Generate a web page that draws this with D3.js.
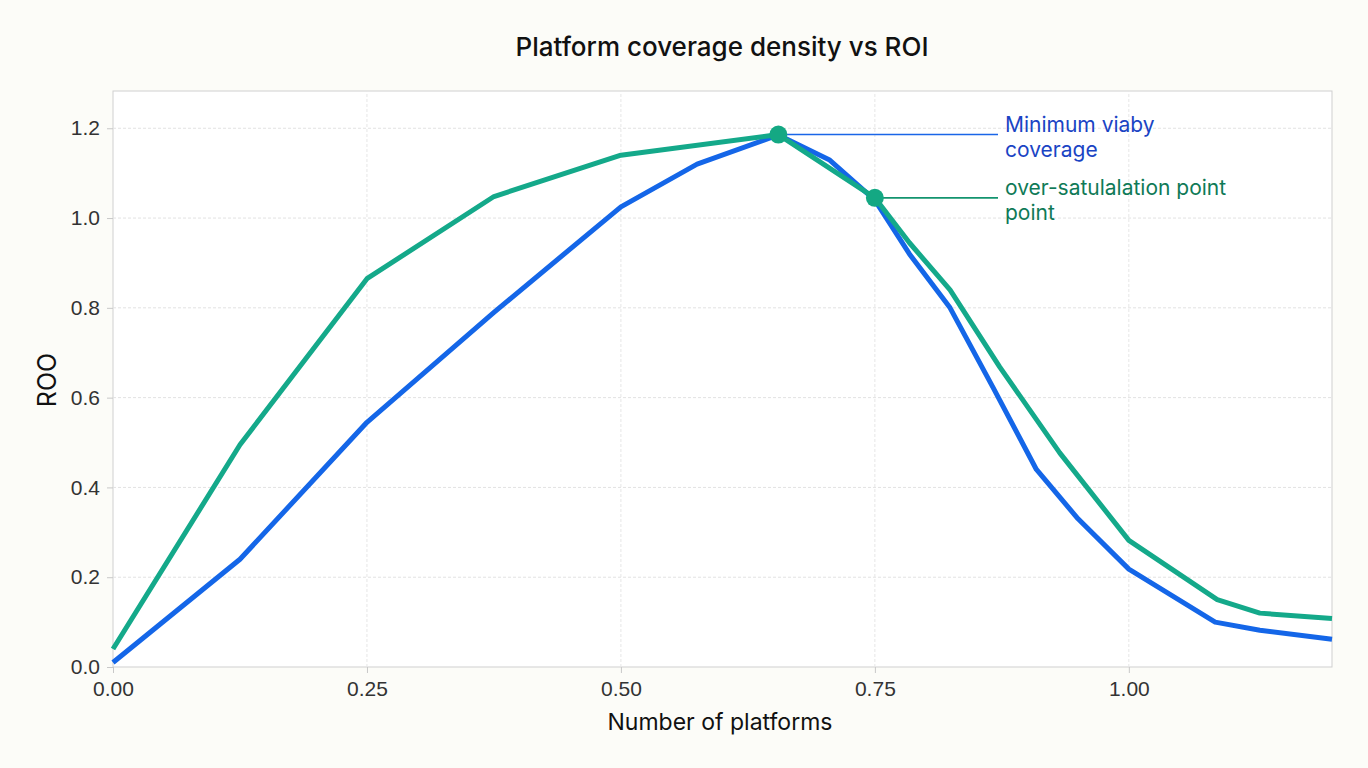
<!DOCTYPE html>
<html>
<head>
<meta charset="utf-8">
<script src="https://cdn.jsdelivr.net/npm/d3@7"></script>
<style>
  html, body { margin: 0; padding: 0; background: #fcfcf8; }
  body { width: 1368px; height: 768px; overflow: hidden; font-family: Inter, "Noto Sans", sans-serif; }
</style>
</head>
<body>
<div id="chart"></div>
<script>
// blue series
const blueX = [0, 0.125, 0.25, 0.375, 0.5, 0.575, 0.655, 0.705, 0.75, 0.784, 0.824, 0.866, 0.909, 0.95, 1.0, 1.085, 1.129, 1.2];
const blueY = [0.01, 0.24, 0.545, 0.79, 1.025, 1.12, 1.185, 1.13, 1.04, 0.92, 0.80, 0.624, 0.44, 0.33, 0.218, 0.10, 0.082, 0.062];
// green series
const greenX = [0, 0.125, 0.25, 0.375, 0.5, 0.655, 0.75, 0.784, 0.824, 0.873, 0.932, 1.0, 1.087, 1.129, 1.2];
const greenY = [0.04, 0.495, 0.865, 1.048, 1.14, 1.186, 1.045, 0.945, 0.84, 0.668, 0.477, 0.282, 0.15, 0.12, 0.108];

const xTicks = [0, 0.25, 0.5, 0.75, 1.0];
const yTicks = [0, 0.2, 0.4, 0.6, 0.8, 1.0, 1.2];

// annotated points
const notes = [
  {x: 0.655, y: 1.186, lines: ["Minimum viaby", "coverage"], color: "#1a44c4", lineColor: "#1a66e8"},
  {x: 0.75, y: 1.045, lines: ["over-satulalation point", "point"], color: "#0f7a57", lineColor: "#13946f"}
];

const W = 1368, H = 768;
const margin = {top: 91, right: 36, bottom: 101, left: 113};

const svg = d3.select("#chart").append("svg")
  .attr("width", W).attr("height", H);

const x = d3.scaleLinear().domain([0, 1.2]).range([margin.left, W - margin.right]);
const y = d3.scaleLinear().domain([0, 1.283]).range([H - margin.bottom, margin.top]);

svg.append("rect")
  .attr("x", x(0)).attr("y", y(1.283))
  .attr("width", x(1.2) - x(0)).attr("height", y(0) - y(1.283))
  .attr("fill", "#fff").attr("stroke", "#cfcfcf").attr("stroke-width", 1);

// grid
svg.append("g").selectAll("line").data(yTicks.slice(1)).join("line")
  .attr("x1", x(0)).attr("x2", x(1.2))
  .attr("y1", d => y(d)).attr("y2", d => y(d))
  .attr("stroke", "#e2e2e2").attr("stroke-dasharray", "3,2");
svg.append("g").selectAll("line").data(xTicks.slice(1)).join("line")
  .attr("y1", y(0)).attr("y2", y(1.283))
  .attr("x1", d => x(d)).attr("x2", d => x(d))
  .attr("stroke", "#e6e6e6").attr("stroke-dasharray", "3,2");

// axes
const xAxis = svg.append("g").attr("transform", `translate(0,${y(0)})`)
  .call(d3.axisBottom(x).tickValues(xTicks).tickFormat(d3.format(".2f")).tickSize(6).tickPadding(8));
const yAxis = svg.append("g").attr("transform", `translate(${x(0)},0)`)
  .call(d3.axisLeft(y).tickValues(yTicks).tickFormat(d3.format(".1f")).tickSize(6).tickPadding(7));
[xAxis, yAxis].forEach(g => {
  g.select(".domain").remove();
  g.selectAll(".tick line").attr("stroke", "#c8c8c8");
  g.selectAll(".tick text").attr("fill", "#333").style("font-size", "21px")
    .style("font-family", "'Liberation Sans', Arial, sans-serif");
});

const line = d3.line().x(d => x(d[0])).y(d => y(d[1]));

svg.append("path").datum(blueX.map((v, i) => [v, blueY[i]]))
  .attr("d", line).attr("fill", "none").attr("stroke", "#1466e8")
  .attr("stroke-width", 5).attr("stroke-linejoin", "round");
svg.append("path").datum(greenX.map((v, i) => [v, greenY[i]]))
  .attr("d", line).attr("fill", "none").attr("stroke", "#14a98a")
  .attr("stroke-width", 5).attr("stroke-linejoin", "round");

// annotations
const textX = 1005;
notes.forEach(n => {
  svg.append("line").attr("x1", x(n.x)).attr("x2", textX - 7)
    .attr("y1", y(n.y)).attr("y2", y(n.y))
    .attr("stroke", n.lineColor).attr("stroke-width", 1.6);
  svg.append("circle").attr("cx", x(n.x)).attr("cy", y(n.y)).attr("r", 9)
    .attr("fill", "#14a883");
  const t = svg.append("text").attr("x", textX).attr("y", y(n.y) - 3)
    .attr("fill", n.color).style("font-size", "21px");
  n.lines.forEach((s, i) => t.append("tspan").attr("x", textX).attr("dy", i ? 25 : 0).text(s));
});

// titles
svg.append("text").attr("x", 722).attr("y", 56).attr("text-anchor", "middle")
  .attr("fill", "#111").style("font-size", "26px").style("font-weight", 500)
  .text("Platform coverage density vs ROI");
svg.append("text").attr("x", 720).attr("y", 730).attr("text-anchor", "middle")
  .attr("fill", "#111").style("font-size", "23px")
  .text("Number of platforms");
svg.append("text").attr("transform", "translate(56,380) rotate(-90)").attr("text-anchor", "middle")
  .attr("fill", "#111").style("font-size", "25px")
  .text("ROO");
</script>
</body>
</html>
